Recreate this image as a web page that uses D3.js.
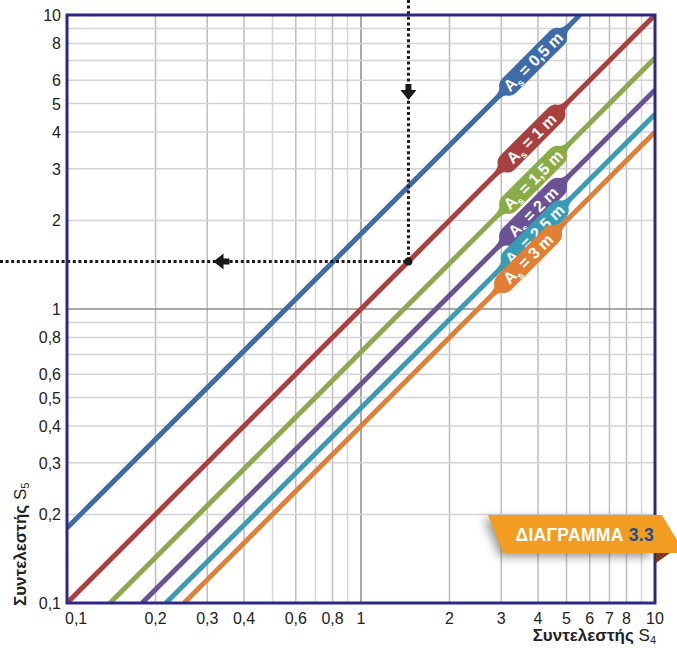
<!DOCTYPE html>
<html>
<head>
<meta charset="utf-8">
<script src="https://cdn.jsdelivr.net/npm/d3@7"></script>
<style>
  body { margin: 0; background: #fff; }
  svg text { font-family: "Liberation Sans", Arial, sans-serif; }
</style>
</head>
<body>
<div id="chart"></div>
<script>
// log-log nomogram: S5 against S4 for several values of As

var seriesNames = ["0,5", "1", "1,5", "2", "2,5", "3"],
    seriesColors = ["#3e6ca8", "#a7403f", "#8aac48", "#6b5294", "#3a9cb4", "#e17f34"],
    // end points of each straight line (x = S4, y = S5)
    startX = [0.1, 0.1, 0.14, 0.18, 0.217, 0.25],
    startY = [0.18, 0.1, 0.1, 0.1, 0.1, 0.1],
    endX = [5.55, 10, 10, 10, 10, 10],
    endY = [10, 10, 7.14, 5.56, 4.6, 4.0],
    labelX = [3.85, 3.8, 3.85, 3.85, 3.9, 3.7];

var xTickVals = [0.1, 0.2, 0.3, 0.4, 0.6, 0.8, 1, 2, 3, 4, 5, 6, 7, 8, 10],
    yTickVals = [0.1, 0.2, 0.3, 0.4, 0.5, 0.6, 0.8, 1, 2, 3, 4, 5, 6, 8, 10],
    gridVals = [0.1, 0.2, 0.3, 0.4, 0.5, 0.6, 0.7, 0.8, 0.9, 1, 2, 3, 4, 5, 6, 7, 8, 9, 10];

// worked example
var guideX = 1.45, guideY = 1.45, arrowDownY = 5.3, arrowLeftX = 0.325;

var W = 677, H = 648,
    margin = {top: 15, right: 22, bottom: 45, left: 67},
    pw = 588, ph = 588;

var fmt = d => String(d).replace(".", ",");

var svg = d3.select("#chart").append("svg")
    .attr("width", W).attr("height", H);

var xs = d3.scaleLog().domain([0.1, 10]).range([margin.left, margin.left + pw]);
var ys = d3.scaleLog().domain([0.1, 10]).range([margin.top + ph, margin.top]);

var defs = svg.append("defs");
defs.append("clipPath").attr("id", "plotClip")
  .append("rect").attr("x", margin.left).attr("y", margin.top)
  .attr("width", pw).attr("height", ph);
var shadow = defs.append("filter").attr("id", "shadow")
  .attr("x", "-20%").attr("y", "-40%").attr("width", "140%").attr("height", "180%");
shadow.append("feGaussianBlur").attr("stdDeviation", 5);

// grid
var grid = svg.append("g");
grid.selectAll(".vx").data(gridVals).join("line")
  .attr("x1", d => xs(d)).attr("x2", d => xs(d))
  .attr("y1", margin.top).attr("y2", margin.top + ph)
  .attr("stroke", d => d === 1 ? "#8c8c8c" : (xTickVals.includes(d) ? "#bdbdbd" : "#d6d6d6"))
  .attr("stroke-width", 1.5);
grid.selectAll(".hy").data(gridVals).join("line")
  .attr("y1", d => ys(d)).attr("y2", d => ys(d))
  .attr("x1", margin.left).attr("x2", margin.left + pw)
  .attr("stroke", d => d === 1 ? "#8c8c8c" : "#d3d3d3")
  .attr("stroke-width", 1.5);

// series lines
var lines = seriesNames.map((n, i) => ({name: n, color: seriesColors[i],
  x0: startX[i], y0: startY[i], x1: endX[i], y1: endY[i], lx: labelX[i]}));

svg.append("g").attr("clip-path", "url(#plotClip)")
  .selectAll("line").data(lines).join("line")
  .attr("x1", d => xs(d.x0)).attr("y1", d => ys(d.y0))
  .attr("x2", d => xs(d.x1)).attr("y2", d => ys(d.y1))
  .attr("stroke", d => d.color).attr("stroke-width", 5);

// dotted guide
var gx = xs(guideX), gy = ys(guideY);
svg.append("line").attr("x1", gx).attr("x2", gx).attr("y1", 0).attr("y2", gy)
  .attr("stroke", "#1a1a1a").attr("stroke-width", 3).attr("stroke-dasharray", "3,2.6");
svg.append("line").attr("x1", 0).attr("x2", gx).attr("y1", gy).attr("y2", gy)
  .attr("stroke", "#1a1a1a").attr("stroke-width", 3).attr("stroke-dasharray", "3,2.6");
svg.append("circle").attr("cx", gx).attr("cy", gy).attr("r", 4).attr("fill", "#1a1a1a");
var ad = ys(arrowDownY);
svg.append("path")
  .attr("d", `M${gx - 3},${ad - 12} h6 v6 h5 l-8,10 l-8,-10 h5 z`)
  .attr("fill", "#1a1a1a");
var al = xs(arrowLeftX);
svg.append("path")
  .attr("d", `M${al + 12},${gy - 3} v6 h-6 v5 l-10,-8 l10,-8 v5 z`)
  .attr("fill", "#1a1a1a");

// pill labels along the lines
var pillLen = 88, pillH = 20, hl = pillLen / 2;
var pills = svg.append("g").selectAll("g").data(lines).join("g")
  .attr("transform", d => {
    var px = xs(d.lx), py = ys(d.lx * d.y1 / d.x1);
    return "translate(" + px + "," + py + ") rotate(-45)";
  });
// small flare where the pill meets its line
pills.append("path")
  .attr("d", `M${-hl - 7},-2.5 Q${-hl + 1},-2.5 ${-hl + 4},-8 V8 Q${-hl + 1},2.5 ${-hl - 7},2.5 Z` +
             `M${hl + 7},-2.5 Q${hl - 1},-2.5 ${hl - 4},-8 V8 Q${hl - 1},2.5 ${hl + 7},2.5 Z`)
  .attr("fill", d => d.color);
pills.append("rect")
  .attr("x", -hl).attr("y", -pillH / 2)
  .attr("width", pillLen).attr("height", pillH)
  .attr("rx", pillH / 2).attr("fill", d => d.color);
var pt = pills.append("text")
  .attr("text-anchor", "middle").attr("y", 5.5)
  .attr("fill", "#fff").attr("font-weight", "bold").attr("font-size", 16);
pt.append("tspan").text("A");
pt.append("tspan").attr("font-size", 10).attr("dy", 4).text("s");
pt.append("tspan").attr("dy", -4).text(d => "\u00a0= " + d.name + " m");

// frame
svg.append("rect").attr("x", margin.left).attr("y", margin.top)
  .attr("width", pw).attr("height", ph)
  .attr("fill", "none").attr("stroke", "#2c2884").attr("stroke-width", 3);

// tick labels
svg.append("g").selectAll("text").data(xTickVals).join("text")
  .attr("x", d => d === 0.1 ? xs(d) - 2 : xs(d))
  .attr("y", 624)
  .attr("text-anchor", d => d === 0.1 ? "start" : "middle")
  .attr("font-size", 16).attr("fill", "#222")
  .text(fmt);
svg.append("g").selectAll("text").data(yTickVals).join("text")
  .attr("x", 61).attr("y", d => ys(d) + 6)
  .attr("text-anchor", "end")
  .attr("font-size", 16).attr("fill", "#222")
  .text(fmt);

// axis titles
var xt = svg.append("text").attr("x", 656).attr("y", 641)
  .attr("text-anchor", "end").attr("font-size", 17).attr("fill", "#222");
xt.append("tspan").attr("font-weight", "bold").text("Συντελεστής ");
xt.append("tspan").text("S");
xt.append("tspan").attr("font-size", 11).attr("dy", 3).text("4");

var yt = svg.append("text").attr("transform", "translate(26,606) rotate(-90)")
  .attr("text-anchor", "start").attr("font-size", 17).attr("fill", "#222");
yt.append("tspan").attr("font-weight", "bold").text("Συντελεστής ");
yt.append("tspan").text("S");
yt.append("tspan").attr("font-size", 11).attr("dy", 3).text("5");

// badge
var badge = svg.append("g");
badge.append("polygon")
  .attr("points", "484,519 650,519 650,557 500,557")
  .attr("fill", "#555").attr("opacity", 0.6).attr("filter", "url(#shadow)");
badge.append("polygon")
  .attr("points", "656,553 677,553 677,548 656,563")
  .attr("fill", "#7a3a12");
badge.append("polygon")
  .attr("points", "488,515 662,515 677,540 677,553 503,553")
  .attr("fill", "#f39c22");
var bt = badge.append("text").attr("x", 654).attr("y", 541)
  .attr("text-anchor", "end").attr("font-size", 17.5).attr("font-weight", "bold")
  .attr("letter-spacing", 0.3);
bt.append("tspan").attr("fill", "#fff").text("ΔΙΑΓΡΑΜΜΑ ");
bt.append("tspan").attr("fill", "#1c4f8c").text("3.3");
</script>
</body>
</html>
